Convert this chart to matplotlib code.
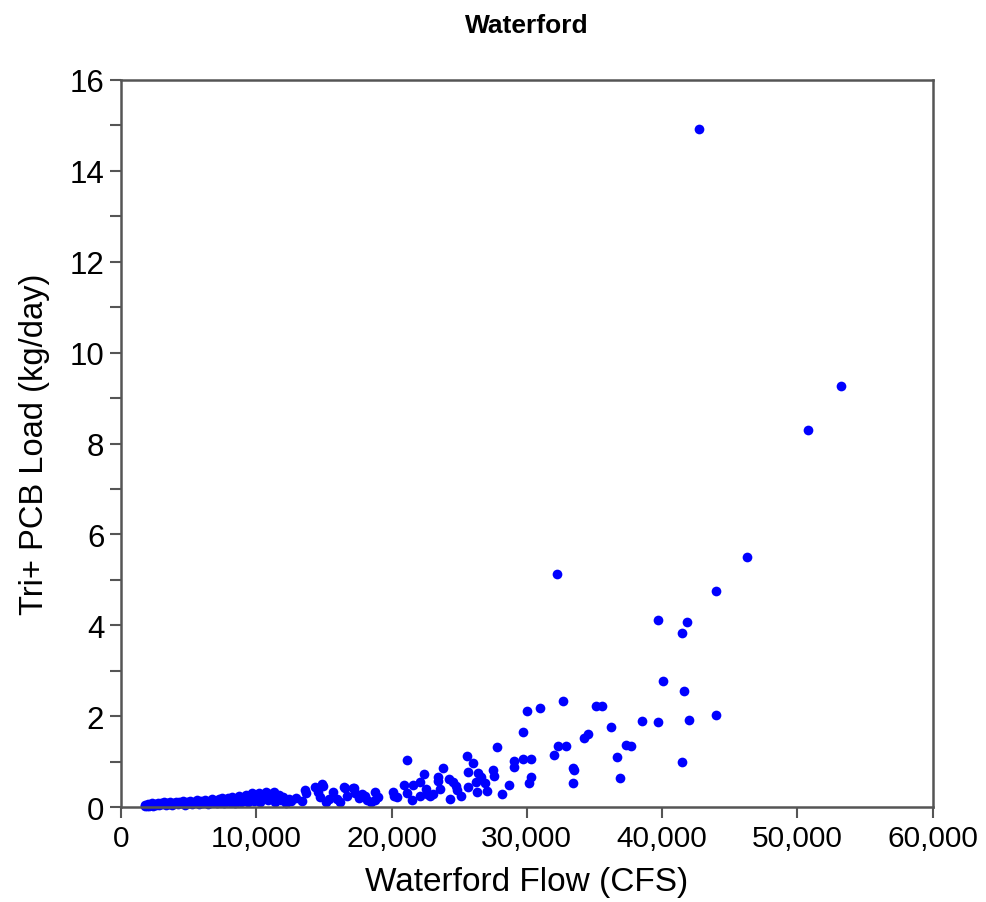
import matplotlib.pyplot as plt
from matplotlib.ticker import FuncFormatter, MultipleLocator

plt.rcParams['font.family'] = ['Liberation Sans', 'DejaVu Sans']

# low-flow cluster (CFS, kg/day)
flow_low = [1750, 1800, 1900, 2000, 2100, 2200, 2300, 2400, 2500, 2600,
            2700, 2800, 2950, 3050, 3150, 3300, 3400, 3550, 3650, 3800,
            3900, 4050, 4200, 4300, 4450, 4600, 4700, 4850, 5000, 5100,
            5250, 5400, 5500, 5650, 5800, 5900, 6050, 6200, 6300, 6450,
            6600, 6700, 6850, 7000, 7100, 7250, 7400, 7500, 7650, 7800,
            7900, 8050, 8200, 8300, 8450, 8600, 8700, 8850, 9000, 9100,
            9250, 9400, 9500, 9650, 9800, 9900, 10050, 10200, 10300, 10450,
            10600, 10700, 10850, 11000, 11150, 11300, 11400, 11550, 11700, 11850,
            12000, 12200, 12400, 12600]
load_low = [0.02, 0.04, 0.03, 0.06, 0.02, 0.05, 0.08, 0.03, 0.07, 0.05,
            0.09, 0.04, 0.08, 0.06, 0.10, 0.05, 0.09, 0.07, 0.11, 0.04,
            0.08, 0.12, 0.06, 0.10, 0.08, 0.13, 0.05, 0.11, 0.09, 0.14,
            0.07, 0.12, 0.10, 0.15, 0.06, 0.13, 0.09, 0.16, 0.11, 0.07,
            0.14, 0.18, 0.10, 0.13, 0.08, 0.17, 0.12, 0.20, 0.09, 0.15,
            0.19, 0.11, 0.22, 0.14, 0.08, 0.18, 0.24, 0.12, 0.20, 0.16,
            0.27, 0.10, 0.22, 0.30, 0.14, 0.25, 0.19, 0.31, 0.12, 0.27,
            0.21, 0.34, 0.16, 0.29, 0.24, 0.33, 0.11, 0.20, 0.27, 0.15,
            0.23, 0.09, 0.18, 0.13]

# mid and high flows
flow_high = [12950, 13390, 13610, 13690, 14350, 14570, 14720, 14870, 14940, 15150,
             15400, 15680, 15980, 16200, 16500, 16570, 16720, 17160, 17240, 17310,
             17600, 17800, 18050, 18200, 18500, 18790, 18790, 19000, 20120, 20200,
             20420, 20940, 21160, 21160, 21530, 21600, 22120, 22120, 22420, 22560,
             22640, 22860, 23080, 23450, 23450, 23600, 23820, 24270, 24340, 24560,
             24780, 24860, 25150, 25600, 25670, 25670, 26040, 26260, 26340, 26410,
             26630, 26930, 27080, 27520, 27590, 27820, 28190, 28700, 29070, 29070,
             29740, 29740, 30040, 30180, 30330, 30330, 30990, 32030, 32250, 32330,
             32700, 32920, 33440, 33510, 33440, 34250, 34550, 35140, 35580, 36250,
             36690, 36920, 37360, 37730, 38540, 39730, 39730, 40100, 41500, 41500,
             41650, 41870, 42020, 42760, 44020, 44020, 46310, 50820, 53260]
load_high = [0.20, 0.13, 0.37, 0.30, 0.44, 0.33, 0.22, 0.51, 0.46, 0.12,
             0.18, 0.33, 0.18, 0.11, 0.44, 0.42, 0.24, 0.42, 0.42, 0.31,
             0.20, 0.28, 0.24, 0.15, 0.10, 0.33, 0.15, 0.22, 0.33, 0.24,
             0.22, 0.48, 1.03, 0.30, 0.15, 0.48, 0.55, 0.24, 0.73, 0.40,
             0.29, 0.24, 0.29, 0.66, 0.57, 0.40, 0.86, 0.62, 0.18, 0.55,
             0.46, 0.37, 0.24, 1.12, 0.77, 0.44, 0.97, 0.55, 0.33, 0.75,
             0.66, 0.53, 0.35, 0.81, 0.68, 1.32, 0.29, 0.48, 1.01, 0.88,
             1.06, 1.65, 2.11, 0.53, 1.06, 0.66, 2.18, 1.14, 5.13, 1.34,
             2.33, 1.34, 0.86, 0.81, 0.53, 1.52, 1.61, 2.22, 2.22, 1.76,
             1.10, 0.64, 1.36, 1.34, 1.89, 1.87, 4.12, 2.77, 0.99, 3.83,
             2.55, 4.07, 1.91, 14.92, 2.02, 4.75, 5.50, 8.30, 9.26]

flow = flow_low + flow_high
load = load_low + load_high

fig = plt.figure(figsize=(9.87, 9.03), dpi=100)
ax = fig.add_axes([0.1226, 0.1052, 0.8222, 0.8051])

ax.plot(flow, load, 'o', color='#0000ff', markersize=7, markeredgewidth=0,
        clip_on=False)

ax.set_xlim(0, 60000)
ax.set_ylim(0, 16)
ax.xaxis.set_major_locator(MultipleLocator(10000))
ax.yaxis.set_major_locator(MultipleLocator(2))
ax.yaxis.set_minor_locator(MultipleLocator(1))
ax.xaxis.set_major_formatter(FuncFormatter(lambda v, p: f"{int(v):,}"))

for s in ax.spines.values():
    s.set_color('#555555')
    s.set_linewidth(1.8)
ax.tick_params(which='both', direction='out', length=8, width=1.5,
               color='#555555', pad=4)
ax.tick_params(axis='x', labelsize=21.5)
ax.tick_params(axis='y', labelsize=22.5)
ax.tick_params(axis='x', which='minor', length=0)

ax.set_xlabel("Waterford Flow (CFS)", fontsize=24, labelpad=10)
ax.set_ylabel("Tri+ PCB Load (kg/day)", fontsize=23.5, labelpad=14)
fig.text(0.5334, 0.971, "Waterford", ha='center', va='center',
         fontsize=19, fontweight='bold')

fig.savefig('out.png', dpi=100)
